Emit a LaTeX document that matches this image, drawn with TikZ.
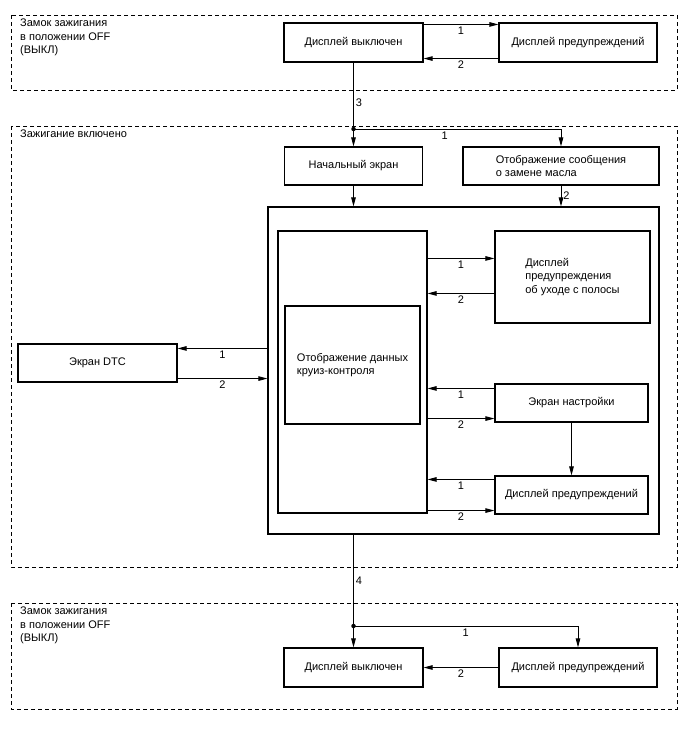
\documentclass[tikz,border=0pt]{standalone}
\usepackage{fontspec}
\setmainfont{Liberation Sans}
\usetikzlibrary{arrows.meta}

\begin{document}
\begin{tikzpicture}[x=1pt, y=-1pt,
    box/.style={draw, line width=1.1pt, font=\fontsize{11}{13.5}\selectfont, inner sep=2pt},
    zone/.style={draw, line width=0.9pt, dash pattern=on 4pt off 3pt},
    lbl/.style={font=\fontsize{11}{13.5}\selectfont, align=left, inner sep=0pt, anchor=north west},
    arr/.style={line width=0.9pt, -{Triangle[length=9pt, width=4.5pt]}},
    num/.style={font=\fontsize{11}{13.5}\selectfont, inner sep=2pt},
    dot/.style={circle, fill, inner sep=0pt, minimum size=4.5pt}]
    \useasboundingbox (0,0) rectangle (688,755);

    % Ignition off (top)
    \draw[zone] (11,15) rectangle (677,90);
    \node[lbl] (offLblA) at (20,19) {Замок зажигания\\в положении OFF\\(ВЫКЛ)};
    \node[box, minimum width=139pt, minimum height=39pt] (offA) at (353.5,42.5) {Дисплей выключен};
    \node[box, minimum width=158pt, minimum height=39pt] (warnA) at (578,42.5) {Дисплей предупреждений};
    \draw[arr] ([yshift=-2pt]offA.north east) -- ([yshift=-2pt]warnA.north west) node[num, midway, below] {1};
    \draw[arr] ([yshift=4pt]warnA.south west) -- ([yshift=4pt]offA.south east) node[num, midway, below] {2};

    % Ignition on
    \draw[zone] (11,126) rectangle (677,567);
    \node[lbl] (onLbl) at (20,130) {Зажигание включено};
    \coordinate (splitB) at (353.5,129);
    \draw[line width=0.9pt] (offA.south) -- (splitB) node[num, pos=0.6, right] {3};
    \node[dot] (dotB) at (splitB) {};
    \node[box, minimum width=138pt, minimum height=38pt] (start) at (353.5,166) {Начальный экран};
    \node[box, minimum width=196pt, minimum height=38pt, align=left] (oil) at (561,166) {Отображение сообщения\\о замене масла};
    \draw[arr] (splitB) -- (start.north);
    \draw[arr] (splitB) -| (oil.north) node[num, pos=0.22, below] {1};

    % Main display
    \node[box, minimum width=391pt, minimum height=327pt] (main) at (463.5,370.5) {};
    \node[box, minimum width=149pt, minimum height=282pt] (inner) at (352.5,372) {};
    \node[box, minimum width=135pt, minimum height=118pt, align=left] (cruise) at (352.5,365) {Отображение данных\\круиз-контроля};
    \draw[arr] (start.south) -- (start.south |- main.north);
    \draw[arr] (oil.south) -- (oil.south |- main.north) node[num, midway, right] {2};

    % Screens on the right
    \node[box, minimum width=155pt, minimum height=92pt, align=left] (lane) at (572.5,277) {Дисплей\\предупреждения\\об уходе с полосы};
    \node[box, minimum width=153pt, minimum height=38pt] (setup) at (571.5,403) {Экран настройки};
    \node[box, minimum width=153pt, minimum height=38pt] (warnB) at (571.5,495) {Дисплей предупреждений};
    \draw[arr] ([yshift=-28pt]inner.north east) -- ([yshift=-28pt]lane.north west) node[num, midway, below] {1};
    \draw[arr] ([yshift=-63pt]lane.north west) -- ([yshift=-63pt]inner.north east) node[num, midway, below] {2};
    \coordinate (s1) at ([yshift=-5pt]setup.north west);
    \coordinate (s2) at ([yshift=4pt]setup.south west);
    \draw[arr] (s1) -- (s1 -| inner.east) node[num, midway, below] {1};
    \draw[arr] (s2 -| inner.east) -- (s2) node[num, midway, below] {2};
    \draw[arr] (setup.south) -- (warnB.north);
    \coordinate (w1) at ([yshift=-4pt]warnB.north west);
    \coordinate (w2) at ([yshift=4pt]warnB.south west);
    \draw[arr] (w1) -- (w1 -| inner.east) node[num, midway, below] {1};
    \draw[arr] (w2 -| inner.east) -- (w2) node[num, midway, below] {2};

    % DTC screen
    \node[box, minimum width=159pt, minimum height=38pt] (dtc) at (97.5,363) {Экран DTC};
    \coordinate (d1) at ([yshift=-5pt]dtc.north east);
    \coordinate (d2) at ([yshift=4pt]dtc.south east);
    \draw[arr] (d1 -| main.west) -- (d1) node[num, midway, below] {1};
    \draw[arr] (d2) -- (d2 -| main.west) node[num, midway, below] {2};

    % Ignition off (bottom)
    \draw[zone] (11,603) rectangle (677,709);
    \node[lbl] (offLblC) at (20,607) {Замок зажигания\\в положении OFF\\(ВЫКЛ)};
    \node[box, minimum width=139pt, minimum height=39pt] (offC) at (353.5,667.5) {Дисплей выключен};
    \node[box, minimum width=158pt, minimum height=39pt] (warnC) at (578,667.5) {Дисплей предупреждений};
    \coordinate (splitC) at (353.5,626);
    \draw[line width=0.9pt] (offC.north |- main.south) -- (splitC) node[num, midway, right] {4};
    \node[dot] (dotC) at (splitC) {};
    \draw[arr] (splitC) -- (offC.north);
    \draw[arr] (splitC) -| (warnC.north) node[num, pos=0.25, below] {1};
    \draw[arr] (warnC.west) -- (offC.east) node[num, midway, below] {2};
\end{tikzpicture}
\end{document}
